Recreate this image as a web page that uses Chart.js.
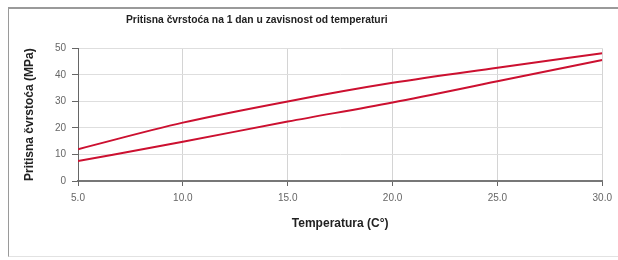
<!DOCTYPE html>
<html>
<head>
<meta charset="utf-8">
<script src="https://cdn.jsdelivr.net/npm/chart.js@4/dist/chart.umd.min.js"></script>
<style>
  html, body { margin: 0; padding: 0; background: #fff; }
  #wrap { position: relative; width: 618px; height: 260px; overflow: hidden; }
  #frame { position: absolute; left: 8px; top: 7px; width: 640px; height: 247px;
           border-top: 2px solid #9a9a9a; border-left: 1px solid #9a9a9a; border-bottom: 1px solid #e2e2e2; }
  #c { position: absolute; left: 0; top: 0; }
</style>
</head>
<body>
<div id="wrap">
  <div id="frame"></div>
  <canvas id="c" width="618" height="260"></canvas>
</div>
<script>
const chartTitle = 'Pritisna čvrstoća na 1 dan u zavisnost od temperaturi';
const xAxisTitle = 'Temperatura (C°)';
const yAxisTitle = 'Pritisna čvrstoća (MPa)';
const temperatures = [5, 10, 15, 20, 25, 30];
const upperSeries = [12.0, 22.0, 30.0, 37.0, 42.7, 48.2];
const lowerSeries = [7.5, 14.8, 22.4, 29.6, 37.6, 45.6];

const FONT = 'Liberation Sans, Arial, sans-serif';

const toPoints = (xs, ys) => xs.map((x, i) => ({ x: x, y: ys[i] }));

const titleShift = {
  id: 'titleShift',
  afterLayout(chart) {
    const tb = chart.titleBlock;
    if (tb) { tb.left = 126; tb.right = 618; }
  }
};

new Chart(document.getElementById('c'), {
  type: 'line',
  data: {
    datasets: [
      { label: 'A', data: toPoints(temperatures, upperSeries), borderColor: '#cc1030', borderWidth: 2,
        pointRadius: 0, fill: false, cubicInterpolationMode: 'monotone' },
      { label: 'B', data: toPoints(temperatures, lowerSeries), borderColor: '#cc1030', borderWidth: 2,
        pointRadius: 0, fill: false, cubicInterpolationMode: 'monotone' }
    ]
  },
  plugins: [titleShift],
  options: {
    responsive: false,
    animation: false,
    layout: { padding: { left: 10, right: 15, top: 0, bottom: 29 } },
    plugins: {
      legend: { display: false },
      tooltip: { enabled: false },
      title: {
        display: true, text: chartTitle, align: 'start', color: '#222',
        font: { family: FONT, size: 10.3, weight: 'bold' },
        padding: { top: 14, bottom: 22 }
      }
    },
    scales: {
      x: {
        type: 'linear', min: 5, max: 30,
        afterFit(s) { s.height = 50; },
        ticks: { stepSize: 5, color: '#666', padding: 6, font: { family: FONT, size: 10 },
                 callback: v => Number(v).toFixed(1), maxRotation: 0 },
        grid: { color: '#d4d4d4', tickColor: '#666', tickLength: 5 },
        border: { color: '#777', width: 2 },
        title: { display: true, text: xAxisTitle, color: '#222', font: { family: FONT, size: 12, weight: 'bold' },
                 padding: { top: 0, bottom: 0 } }
      },
      y: {
        min: 0, max: 50,
        afterFit(s) { s.width = 68; },
        ticks: { stepSize: 10, color: '#666', padding: 6, font: { family: FONT, size: 10 } },
        grid: { color: '#dedede', tickColor: '#666', tickLength: 6 },
        border: { color: '#666', width: 1 },
        title: { display: true, text: yAxisTitle, color: '#222', font: { family: FONT, size: 12, weight: 'bold' },
                 padding: { top: 12, bottom: 0 } }
      }
    }
  }
});
</script>
</body>
</html>
